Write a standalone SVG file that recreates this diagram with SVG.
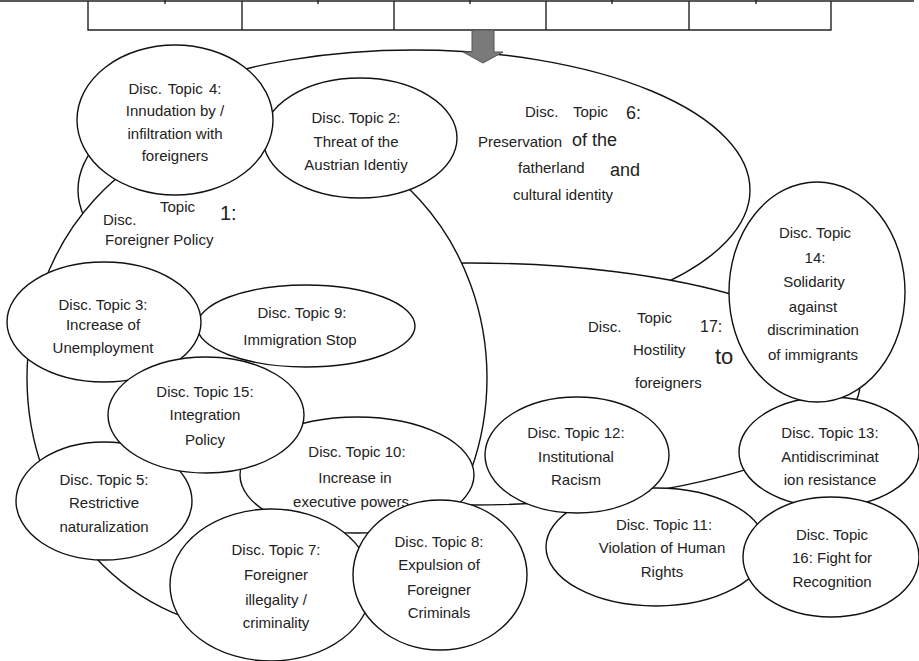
<svg xmlns="http://www.w3.org/2000/svg" width="919" height="661" viewBox="0 0 919 661">
<style>
.e{fill:#fff;stroke:#111;stroke-width:1.4}
.t{font-family:"Liberation Sans",Arial,sans-serif;font-size:15px;fill:#222;text-anchor:middle}
.s{font-family:"Liberation Sans",Arial,sans-serif;font-size:15px;fill:#222}
.tb{stroke:#222;stroke-width:1.4;fill:none}
</style>
<rect width="919" height="661" fill="#fff"/>
<g id="table">
<path class="tb" d="M0 1H914M88 1V30H831V1M242 1V30M394 1V30M546 1V30M689 1V30M165 0V4M318 0V4M470 0V4M612 0V4M756 0V4"/>
</g>
<g id="topic6">
<ellipse class="e" cx="414" cy="190" rx="336" ry="140"/>
<text class="s" x="525" y="117">Disc.</text>
<text class="s" x="573" y="117">Topic</text>
<text class="s" x="626" y="119" style="font-size:18px">6:</text>
<text class="s" x="478" y="147">Preservation</text>
<text class="s" x="572" y="146" style="font-size:18px">of the</text>
<text class="s" x="518" y="173">fatherland</text>
<text class="s" x="610" y="176" style="font-size:18px">and</text>
<text class="s" x="513" y="200">cultural identity</text>
</g>
<g id="topic17">
<ellipse class="e" cx="470" cy="384" rx="390" ry="121"/>
<text class="s" x="588" y="332">Disc.</text>
<text class="s" x="637" y="323">Topic</text>
<text class="s" x="700" y="332" style="font-size:16px">17:</text>
<text class="s" x="633" y="355">Hostility</text>
<text class="s" x="715" y="364" style="font-size:22px">to</text>
<text class="s" x="635" y="388">foreigners</text>
</g>
<g id="topic1">
<ellipse class="e" cx="257" cy="378" rx="230" ry="252"/>
<text class="s" x="103" y="225">Disc.</text>
<text class="s" x="160" y="212">Topic</text>
<text class="s" x="220" y="220" style="font-size:20px">1:</text>
<text class="s" x="105" y="245">Foreigner Policy</text>
</g>
<g id="topic2">
<ellipse class="e" cx="360" cy="138" rx="97" ry="60"/>
<text class="t" x="356" y="123">Disc. Topic 2:</text>
<text class="t" x="356" y="147">Threat of the</text>
<text class="t" x="356" y="170">Austrian Identiy</text>
</g>
<g id="topic4">
<ellipse class="e" cx="175" cy="120" rx="98" ry="75"/>
<text class="t" x="175" y="94" style="word-spacing:2px">Disc. Topic 4:</text>
<text class="t" x="175" y="116">Innudation by /</text>
<text class="t" x="175" y="139">infiltration with</text>
<text class="t" x="175" y="161">foreigners</text>
</g>
<g id="topic9">
<ellipse class="e" cx="306" cy="326" rx="109" ry="41"/>
<text class="t" x="302" y="318">Disc. Topic 9:</text>
<text class="t" x="300" y="345">Immigration Stop</text>
</g>
<g id="topic3">
<ellipse class="e" cx="104" cy="322" rx="97" ry="60"/>
<text class="t" x="103" y="310">Disc. Topic 3:</text>
<text class="t" x="103" y="330">Increase of</text>
<text class="t" x="103" y="353">Unemployment</text>
</g>
<g id="topic5">
<ellipse class="e" cx="104" cy="501" rx="88" ry="59"/>
<text class="t" x="104" y="485">Disc. Topic 5:</text>
<text class="t" x="104" y="508">Restrictive</text>
<text class="t" x="104" y="532">naturalization</text>
</g>
<g id="topic10">
<ellipse class="e" cx="357" cy="475" rx="117" ry="58"/>
<text class="t" x="357" y="457">Disc. Topic 10:</text>
<text class="t" x="355" y="483">Increase in</text>
<text class="t" x="351" y="507">executive powers</text>
</g>
<g id="topic15">
<ellipse class="e" cx="206" cy="415" rx="98" ry="58"/>
<text class="t" x="205" y="397">Disc. Topic 15:</text>
<text class="t" x="205" y="420">Integration</text>
<text class="t" x="205" y="445">Policy</text>
</g>
<g id="topic7">
<ellipse class="e" cx="271" cy="585" rx="101" ry="76"/>
<text class="t" x="276" y="555">Disc. Topic 7:</text>
<text class="t" x="276" y="580">Foreigner</text>
<text class="t" x="276" y="605">illegality /</text>
<text class="t" x="276" y="628">criminality</text>
</g>
<g id="topic8">
<ellipse class="e" cx="440" cy="575" rx="87" ry="75"/>
<text class="t" x="439" y="547">Disc. Topic 8:</text>
<text class="t" x="439" y="570">Expulsion of</text>
<text class="t" x="439" y="595">Foreigner</text>
<text class="t" x="439" y="618">Criminals</text>
</g>
<g id="topic11">
<ellipse class="e" cx="656" cy="547" rx="110" ry="59"/>
<text class="t" x="664" y="530">Disc. Topic 11:</text>
<text class="t" x="662" y="553">Violation of Human</text>
<text class="t" x="662" y="577">Rights</text>
</g>
<g id="topic12">
<ellipse class="e" cx="577" cy="455" rx="92" ry="58"/>
<text class="t" x="576" y="438">Disc. Topic 12:</text>
<text class="t" x="576" y="462">Institutional</text>
<text class="t" x="576" y="485">Racism</text>
</g>
<g id="topic13">
<ellipse class="e" cx="829" cy="452" rx="90" ry="55"/>
<text class="t" x="830" y="438">Disc. Topic 13:</text>
<text class="t" x="830" y="462">Antidiscriminat</text>
<text class="t" x="830" y="485">ion resistance</text>
</g>
<g id="topic14">
<ellipse class="e" cx="817" cy="292" rx="88" ry="110"/>
<text class="t" x="815" y="238">Disc. Topic</text>
<text class="t" x="815" y="263">14:</text>
<text class="t" x="814" y="287">Solidarity</text>
<text class="t" x="813" y="312">against</text>
<text class="t" x="813" y="335">discrimination</text>
<text class="t" x="813" y="360">of immigrants</text>
</g>
<g id="topic16">
<ellipse class="e" cx="831" cy="557" rx="88" ry="60"/>
<text class="t" x="832" y="540">Disc. Topic</text>
<text class="t" x="832" y="563">16: Fight for</text>
<text class="t" x="832" y="587">Recognition</text>
</g>
<g id="connectors">
<path d="M472 30H494V52H503L483 63L463 52H472Z" fill="#7a7a7a" stroke="#555" stroke-width="1"/>
</g>
</svg>
